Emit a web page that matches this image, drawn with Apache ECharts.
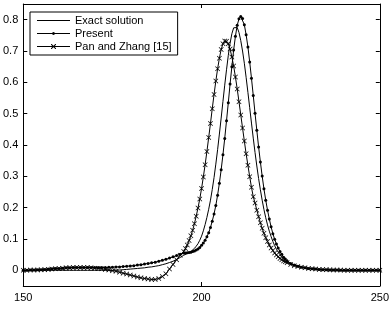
<!DOCTYPE html>
<html>
<head>
<meta charset="utf-8">
<script src="https://cdn.jsdelivr.net/npm/echarts@6/dist/echarts.min.js"></script>
<style>
  html, body { margin: 0; padding: 0; background: #fff; }
  #chart { width: 392px; height: 312px; }
</style>
</head>
<body>
<div id="chart"></div>
<script>
// sample positions along x
const xs = [
  150, 151, 152, 153, 154, 155, 156, 157, 158, 159, 160, 161, 162, 163, 164, 165,
  166, 167, 168, 169, 170, 171, 172, 173, 174, 175, 176, 177, 178, 179, 180, 181,
  182, 183, 184, 185, 186, 187, 188, 189, 190, 191, 192, 193, 194, 195,
  195.5, 196, 196.5, 197, 197.5, 198, 198.5, 199, 199.5,
  200, 200.5, 201, 201.5, 202, 202.5, 203, 203.5, 204, 204.5,
  205, 205.5, 206, 206.5, 207, 207.5, 208, 208.5, 209, 209.5,
  210, 210.5, 211, 211.5, 212, 212.5, 213, 213.5, 214, 214.5,
  215, 215.5, 216, 216.5, 217, 217.5, 218, 218.5, 219, 219.5,
  220, 220.5, 221, 221.5, 222, 222.5, 223, 223.5, 224,
  225, 226, 227, 228, 229, 230, 231, 232, 233, 234, 235, 236, 237, 238, 239,
  240, 241, 242, 243, 244, 245, 246, 247, 248, 249, 250
];

const exactValues = [
  0, 0, 0, 0, 0, 0, 0, 0, 0, 0, 0, 0, 0, 0, 0, 0,
  0, 0, 0, 0, 0, 0, 0, 0, 0, 0, 0.001, 0.001, 0.002, 0.003, 0.004, 0.005,
  0.006, 0.007, 0.008, 0.010, 0.011, 0.013, 0.015, 0.018, 0.021, 0.025, 0.029, 0.035, 0.041, 0.048,
  0.051, 0.054, 0.057, 0.060, 0.064, 0.070, 0.077, 0.085, 0.096,
  0.109, 0.126, 0.146, 0.169, 0.195, 0.224, 0.258, 0.296, 0.339, 0.385,
  0.435, 0.486, 0.539, 0.591, 0.640, 0.686, 0.725, 0.755, 0.774, 0.780,
  0.775, 0.759, 0.733, 0.700, 0.661, 0.616, 0.568, 0.519, 0.470, 0.422,
  0.376, 0.333, 0.293, 0.257, 0.224, 0.194, 0.168, 0.145, 0.125, 0.108,
  0.092, 0.079, 0.067, 0.058, 0.050, 0.042, 0.036, 0.030, 0.026,
  0.020, 0.016, 0.013, 0.010, 0.008, 0.006, 0.005, 0.004, 0.003, 0.002, 0.002, 0.001, 0.001, 0.001, 0,
  0, 0, 0, 0, 0, 0, 0, 0, 0, 0, 0
];

const presentValues = [
  0, 0, 0.001, 0.001, 0.002, 0.002, 0.003, 0.004, 0.005, 0.006, 0.006, 0.007, 0.008, 0.008, 0.009, 0.009,
  0.009, 0.009, 0.009, 0.009, 0.009, 0.009, 0.009, 0.009, 0.010, 0.010, 0.011, 0.011, 0.012, 0.013, 0.014, 0.015,
  0.017, 0.018, 0.020, 0.022, 0.024, 0.026, 0.029, 0.032, 0.035, 0.039, 0.043, 0.047, 0.051, 0.055,
  0.055, 0.056, 0.057, 0.058, 0.060, 0.062, 0.065, 0.068, 0.073,
  0.080, 0.087, 0.096, 0.107, 0.120, 0.137, 0.157, 0.180, 0.207, 0.240,
  0.278, 0.321, 0.369, 0.421, 0.477, 0.535, 0.595, 0.650, 0.703, 0.747,
  0.782, 0.803, 0.810, 0.804, 0.784, 0.752, 0.713, 0.665, 0.613, 0.558,
  0.501, 0.447, 0.394, 0.346, 0.301, 0.260, 0.224, 0.192, 0.164, 0.139,
  0.117, 0.099, 0.084, 0.071, 0.060, 0.051, 0.042, 0.036, 0.030,
  0.022, 0.017, 0.013, 0.010, 0.008, 0.006, 0.005, 0.004, 0.003, 0.002, 0.002, 0.001, 0.001, 0.001, 0,
  0, 0, 0, 0, 0, 0, 0, 0, 0, 0, 0
];

const panZhangValues = [
  0, 0, 0.001, 0.001, 0.001, 0.002, 0.002, 0.003, 0.004, 0.005, 0.006, 0.007, 0.008, 0.008, 0.009, 0.009,
  0.009, 0.009, 0.009, 0.008, 0.007, 0.006, 0.005, 0.003, 0.001, -0.001, -0.003, -0.006, -0.009, -0.012, -0.015, -0.018,
  -0.021, -0.024, -0.026, -0.028, -0.029, -0.029, -0.026, -0.020, -0.011, 0.004, 0.019, 0.034, 0.048, 0.060,
  0.070, 0.081, 0.095, 0.110, 0.128, 0.149, 0.173, 0.199, 0.228,
  0.261, 0.298, 0.337, 0.379, 0.424, 0.469, 0.516, 0.561, 0.604, 0.643,
  0.677, 0.705, 0.723, 0.732, 0.731, 0.723, 0.706, 0.681, 0.652, 0.617,
  0.579, 0.538, 0.496, 0.454, 0.413, 0.372, 0.335, 0.299, 0.265, 0.235,
  0.215, 0.192, 0.171, 0.152, 0.134, 0.118, 0.104, 0.092, 0.081, 0.071,
  0.063, 0.055, 0.049, 0.043, 0.038, 0.034, 0.030, 0.027, 0.024,
  0.019, 0.015, 0.012, 0.010, 0.008, 0.006, 0.005, 0.004, 0.003, 0.003, 0.002, 0.002, 0.001, 0.001, 0.001,
  0, 0, 0, 0, 0, 0, 0, 0, 0, 0, 0
];

const xTicks = [150, 200, 250];
const yTicks = [0, 0.1, 0.2, 0.3, 0.4, 0.5, 0.6, 0.7, 0.8];

const pairs = (ys) => xs.map((x, i) => [x, ys[i]]);

const FONT = "'Liberation Sans', Arial, sans-serif";
const crossSymbol =
  "path://M0,1 L1,0 L5,4 L9,0 L10,1 L6,5 L10,9 L9,10 L5,6 L1,10 L0,9 L4,5 Z";

// legend samples: a 33px line, with the series marker drawn in its middle
const iconLine = "path://M0,2 L33,2 L33,3 L0,3 Z M0,0 L0,0.01 M0,5 L0,5.01";
const iconDot =
  "path://M0,2 L33,2 L33,3 L0,3 Z M15,2.5 L15.4,1.4 L16.5,1 L17.6,1.4 L18,2.5 L17.6,3.6 L16.5,4 L15.4,3.6 Z M0,0 L0,0.01 M0,5 L0,5.01";
const iconCross =
  "path://M0,2 L33,2 L33,3 L0,3 Z M14,0 L14.7,0 L16.5,1.8 L18.3,0 L19,0 L19,0.7 L17.2,2.5 L19,4.3 L19,5 L18.3,5 L16.5,3.2 L14.7,5 L14,5 L14,4.3 L15.8,2.5 L14,0.7 Z";

const tickStyle = { inside: true, length: 4, lineStyle: { color: "#000", width: 1 } };
const axisLine = { show: true, onZero: false, lineStyle: { color: "#000", width: 1 } };
const labelStyle = { color: "#000", fontSize: 11, fontFamily: FONT };

const chart = echarts.init(document.getElementById("chart"), null, { renderer: "canvas" });

chart.setOption({
  animation: false,
  backgroundColor: "#fff",
  grid: { left: 22, right: 12, top: 4, bottom: 26 },
  legend: {
    orient: "vertical",
    left: 30,
    top: 12,
    padding: [3, 6, 3, 7],
    itemGap: 2,
    itemWidth: 33,
    itemHeight: 13,
    borderColor: "#000",
    borderWidth: 1,
    backgroundColor: "#fff",
    textStyle: { color: "#000", fontSize: 11, fontFamily: FONT },
    data: [
      { name: "Exact solution", icon: iconLine },
      { name: "Present", icon: iconDot },
      { name: "Pan and Zhang [15]", icon: iconCross },
    ],
  },
  xAxis: [
    {
      type: "value",
      min: 150,
      max: 250,
      axisLine,
      axisTick: { ...tickStyle, customValues: xTicks },
      axisLabel: { ...labelStyle, margin: 6, customValues: xTicks },
      splitLine: { show: false },
    },
    {
      type: "value",
      position: "top",
      min: 150,
      max: 250,
      axisLine,
      axisTick: { ...tickStyle, customValues: xTicks },
      axisLabel: { show: false },
      splitLine: { show: false },
    },
  ],
  yAxis: [
    {
      type: "value",
      min: -0.05,
      max: 0.85,
      axisLine,
      axisTick: { ...tickStyle, customValues: yTicks },
      axisLabel: { ...labelStyle, margin: 5, customValues: yTicks },
      splitLine: { show: false },
    },
    {
      type: "value",
      position: "right",
      min: -0.05,
      max: 0.85,
      axisLine,
      axisTick: { ...tickStyle, customValues: yTicks },
      axisLabel: { show: false },
      splitLine: { show: false },
    },
  ],
  series: [
    {
      name: "Exact solution",
      type: "line",
      data: pairs(exactValues),
      symbol: "none",
      lineStyle: { color: "#000", width: 1 },
      itemStyle: { color: "#000" },
    },
    {
      name: "Present",
      type: "line",
      data: pairs(presentValues),
      symbol: "circle",
      symbolSize: 3,
      showAllSymbol: true,
      lineStyle: { color: "#000", width: 1 },
      itemStyle: { color: "#000" },
    },
    {
      name: "Pan and Zhang [15]",
      type: "line",
      data: pairs(panZhangValues),
      symbol: crossSymbol,
      symbolSize: 5,
      showAllSymbol: true,
      lineStyle: { color: "#000", width: 1 },
      itemStyle: { color: "#000" },
    },
  ],
});
</script>
</body>
</html>
